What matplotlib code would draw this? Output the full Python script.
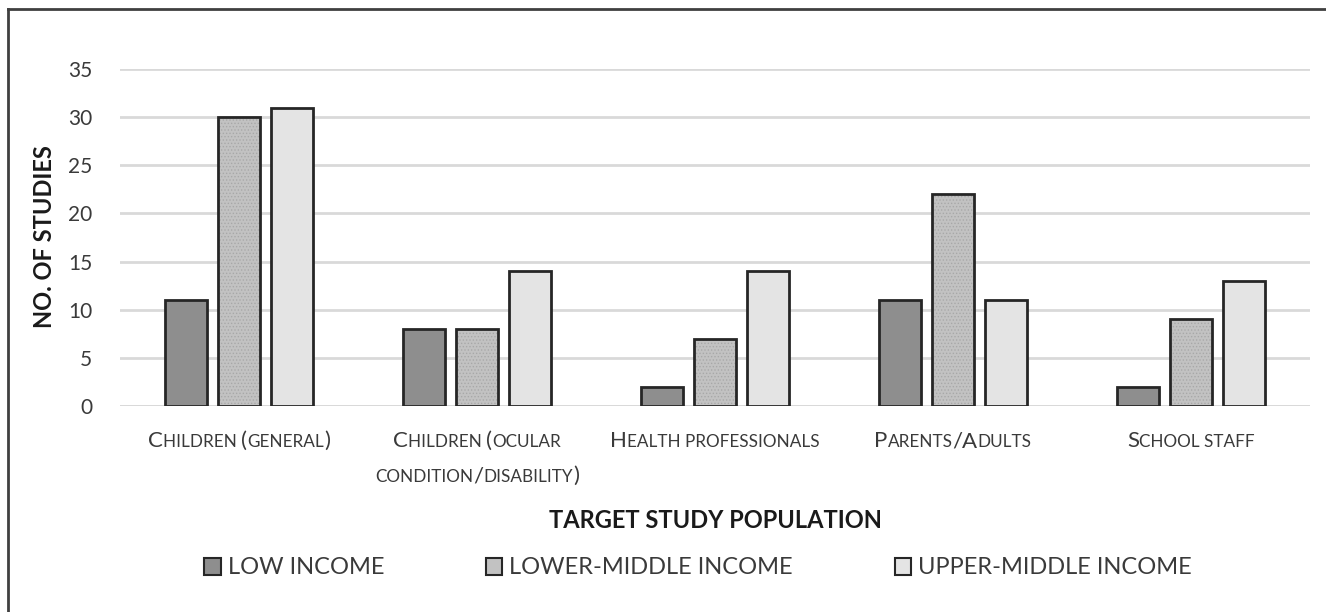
import numpy as np
import matplotlib
matplotlib.use("Agg")
import matplotlib.pyplot as plt
from matplotlib.lines import Line2D
from matplotlib.patches import Patch
from matplotlib.offsetbox import TextArea, HPacker, VPacker, AnnotationBbox

# data
categories = [["Children (general)"],
              ["Children (ocular", "condition/disability)"],
              ["Health professionals"],
              ["Parents/Adults"],
              ["School staff"]]
series_names = ["LOW INCOME", "LOWER-MIDDLE INCOME", "UPPER-MIDDLE INCOME"]
low_income = [11, 8, 2, 11, 2]
lower_middle = [30, 8, 7, 22, 9]
upper_middle = [31, 14, 14, 11, 13]
y_ticks = [0, 5, 10, 15, 20, 25, 30, 35]

plt.rcParams['font.family'] = ['Lato', 'DejaVu Sans']
plt.rcParams['hatch.linewidth'] = 0.6

TXT = '#3a3a3a'
fig = plt.figure(figsize=(13.26, 6.12), dpi=100)
ax = fig.add_axes([120 / 1326, 1 - 406 / 612, 1190 / 1326, 337 / 612])

x = np.arange(len(categories))
step = 0.223
width = 0.18
colors = ['#8e8e8e', '#c2c2c2', '#e4e4e4']
hatches = [None, '.....', None]
values = [low_income, lower_middle, upper_middle]
handles = []
for i, (vals, name) in enumerate(zip(values, series_names)):
    pos = x + (i - 1) * step
    if hatches[i]:
        # dotted fill underneath, dark outline on top
        ax.bar(pos, vals, width, color=colors[i], hatch=hatches[i],
               edgecolor='#a8a8a8', linewidth=0, zorder=2)
        ax.bar(pos, vals, width, facecolor='none', edgecolor='#262626',
               linewidth=2, zorder=3)
    else:
        ax.bar(pos, vals, width, color=colors[i], edgecolor='#262626',
               linewidth=2, zorder=3)
    handles.append(Patch(facecolor=colors[i], edgecolor='#262626', linewidth=1.5,
                         label=name))

ax.set_xlim(-0.5, len(categories) - 0.5)
ax.set_ylim(0, 35)
ax.set_yticks(y_ticks)
ax.tick_params(axis='y', length=0, pad=20, labelsize=15, labelcolor=TXT)
ax.set_xticks([])
ax.yaxis.grid(True, color='#d9d9d9', linewidth=2)
ax.set_axisbelow(True)
for s in ax.spines.values():
    s.set_visible(False)
ax.axhline(0, color='#d9d9d9', linewidth=2, zorder=1)


# small caps tick labels
def smallcaps_row(text, big=16, small=12.3):
    parts = []
    cur, cur_small = '', None
    for ch in text:
        is_small = ch.islower()
        if ch == ' ' and cur_small is not None:
            is_small = cur_small
        if cur_small is None or is_small == cur_small:
            cur += ch
            cur_small = is_small
        else:
            parts.append((cur, cur_small))
            cur, cur_small = ch, is_small
    if cur:
        parts.append((cur, cur_small))
    areas = [TextArea(t.upper(), textprops=dict(fontsize=small if sm else big,
                                                color=TXT))
             for t, sm in parts]
    return HPacker(children=areas, align='baseline', pad=0, sep=0)


for xi, lines in zip(x, categories):
    rows = [smallcaps_row(l) for l in lines]
    box = VPacker(children=rows, align='center', pad=0, sep=11)
    ab = AnnotationBbox(box, (xi, 0), xycoords=('data', 'axes fraction'),
                        xybox=(0, -18), boxcoords='offset points',
                        box_alignment=(0.5, 1.0), frameon=False)
    ax.add_artist(ab)

fig.text((120 + 595) / 1326, 1 - 520 / 612, 'TARGET STUDY POPULATION',
         ha='center', va='center', fontsize=17, fontweight='bold', color='#1a1a1a')
fig.text(45 / 1326, 1 - 237 / 612, 'NO. OF STUDIES', rotation=90,
         ha='center', va='center', fontsize=17, fontweight='bold', color='#1a1a1a')

leg = fig.legend(handles=handles, loc='center', bbox_to_anchor=(698 / 1326, 1 - 568 / 612),
                 ncol=3, frameon=False, fontsize=17, handlelength=0.7,
                 handleheight=0.7, handletextpad=0.3, columnspacing=4.3)
for t in leg.get_texts():
    t.set_color(TXT)

# outer frame (top and left edges visible)
fig.add_artist(Line2D([8 / 1326, 8 / 1326], [0, 1 - 9 / 612],
                      transform=fig.transFigure, color='#404040', linewidth=2))
fig.add_artist(Line2D([8 / 1326, 1], [1 - 9 / 612, 1 - 9 / 612],
                      transform=fig.transFigure, color='#404040', linewidth=2))

fig.savefig('out.png', dpi=100)
